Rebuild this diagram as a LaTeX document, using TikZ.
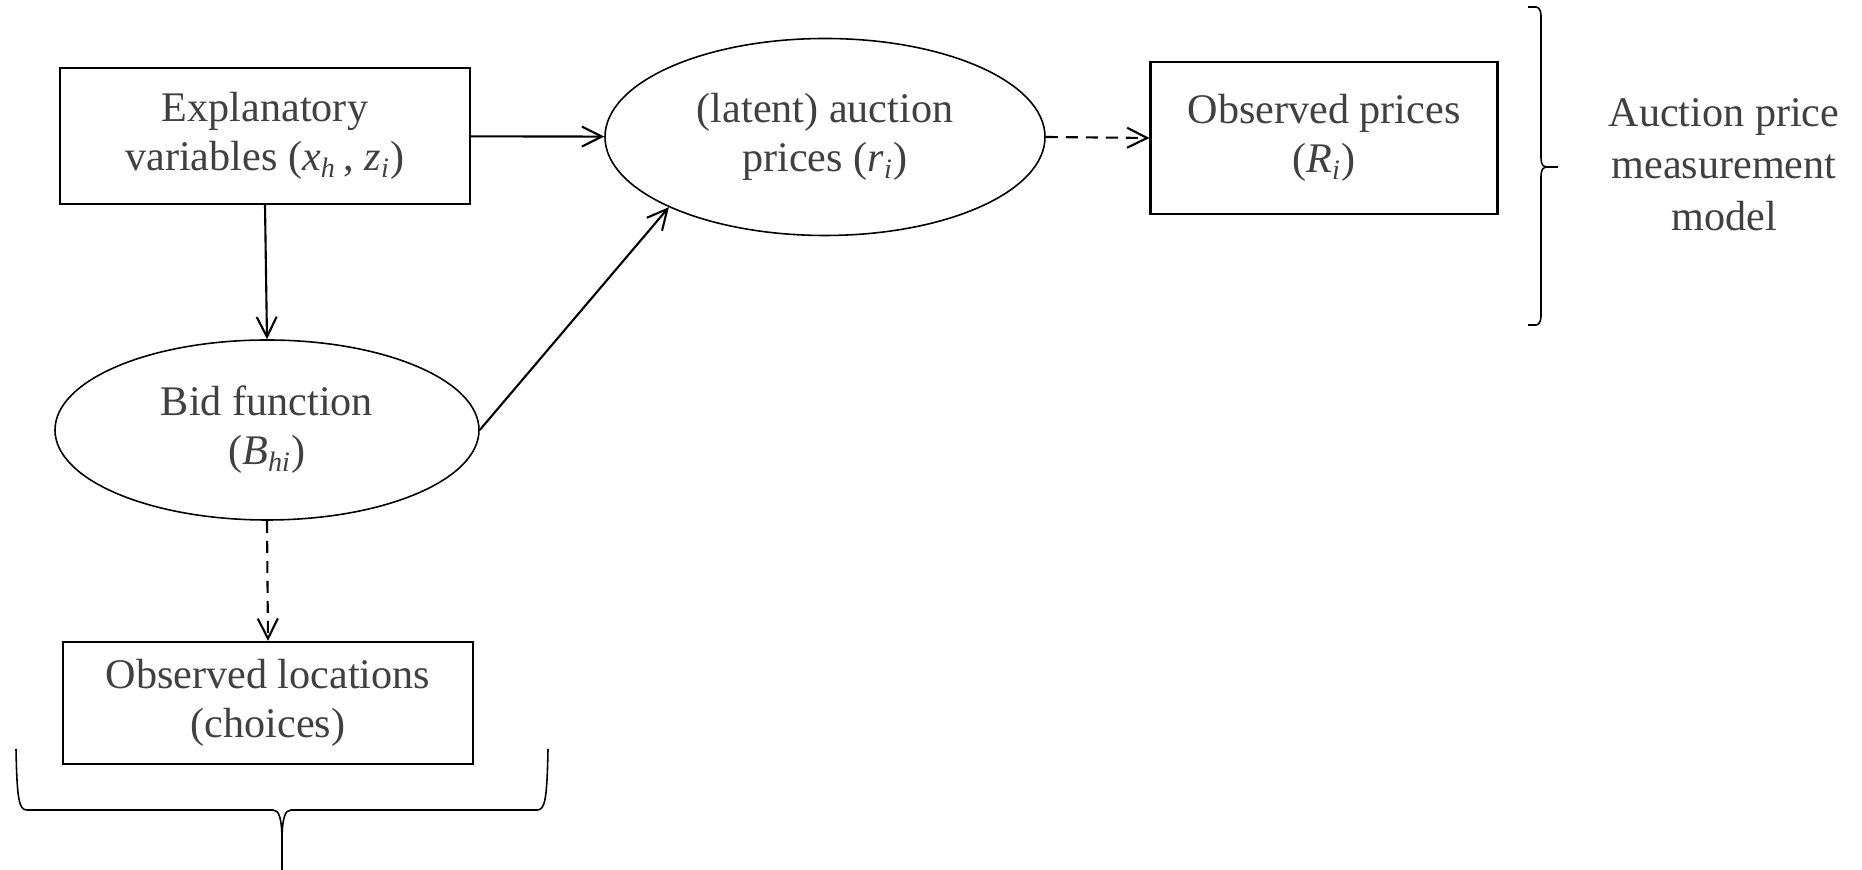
\documentclass[tikz,border=0pt]{standalone}
\usepackage{fontspec}
\setmainfont{Liberation Serif}
\usetikzlibrary{shapes.geometric,arrows.meta}
\definecolor{txtgray}{HTML}{404040}
\tikzset{
	box/.style={draw, rectangle, line width=0.6pt, inner sep=0pt, align=center, text=txtgray},
	oval/.style={draw, ellipse, line width=0.45pt, inner sep=0pt, align=center, text=txtgray},
	link/.style={line width=0.6pt, -{Straight Barb[length=2mm,width=2mm]}},
	obslink/.style={link, dash pattern=on 1.2mm off 0.8mm},
	bracket/.style={line width=0.45pt}
}
\begin{document}
\begin{tikzpicture}[font=\fontsize{12}{14}\selectfont]
		\newcommand{\myvar}[2]{\textit{#1}\textsubscript{\textit{#2}}}
		\useasboundingbox (0,0) rectangle (18.62,-8.70);
		%Centres of the boxes and ovals
		\coordinate (cexpl) at (2.65,-1.36);
		\coordinate (clatent) at (8.25,-1.37);
		\coordinate (cobsp) at (13.24,-1.38);
		\coordinate (cbid) at (2.67,-4.30);
		\coordinate (cobsl) at (2.68,-7.03);
		\coordinate (cmodel) at (17.24,-1.65);
		%The boxes
		\node [box, minimum width=4.10cm, minimum height=1.36cm] (expl) at (cexpl) {Explanatory\\variables (\myvar{x}{h}\,, \myvar{z}{i})};
		\node [box, minimum width=3.47cm, minimum height=1.52cm] (obsp) at (cobsp) {Observed prices\\(\myvar{R}{i})};
		\node [box, minimum width=4.10cm, minimum height=1.22cm] (obsl) at (cobsl) {Observed locations\\(choices)};
		%The ovals
		\node [oval, minimum width=4.40cm, minimum height=1.97cm] (latent) at (clatent) {(latent) auction\\prices (\myvar{r}{i})};
		\node [oval, minimum width=4.24cm, minimum height=1.80cm] (bid) at (cbid) {Bid function\\(\myvar{B}{hi})};
		%Label of the right bracket
		\node [align=center, text=txtgray, font=\fontsize{12}{14.8}\selectfont] (model) at (cmodel) {Auction price\\measurement\\model};
		%Arrows
		\draw [link] (expl) -- (latent);
		\draw [link] (expl.south) -- (bid.north);
		\draw [link] (bid.east) -- (latent.south west);
		\draw [obslink] (latent.east) -- (obsp.west);
		\draw [obslink] (bid.south) -- (obsl.north);
		%Right bracket
		\coordinate (rtop) at (15.28,-0.07);
		\coordinate (rbot) at (15.28,-3.25);
		\coordinate (rtip) at (15.58,-1.67);
		\draw [bracket] (rtop) -- ++(0.08,0) .. controls +(0.04,0) and +(0,0.03) .. ++(0.05,-0.09) -- (15.41,-1.58) .. controls +(0,-0.06) and +(-0.04,0) .. (15.47,-1.67) -- (rtip);
		\draw [bracket] (rbot) -- ++(0.08,0) .. controls +(0.04,0) and +(0,-0.03) .. ++(0.05,0.09) -- (15.41,-1.76) .. controls +(0,0.06) and +(-0.04,0) .. (15.47,-1.67);
		%Bottom bracket
		\coordinate (bleft) at (0.16,-7.49);
		\coordinate (bright) at (5.48,-7.49);
		\coordinate (btip) at (2.82,-8.70);
		\draw [bracket] (bleft) .. controls (0.17,-8.00) and (0.19,-8.10) .. (0.27,-8.10) -- (2.73,-8.10) .. controls (2.79,-8.10) and (2.82,-8.18) .. (2.82,-8.42) -- (btip);
		\draw [bracket] (bright) .. controls (5.47,-8.00) and (5.45,-8.10) .. (5.37,-8.10) -- (2.91,-8.10) .. controls (2.85,-8.10) and (2.82,-8.18) .. (2.82,-8.42);
\end{tikzpicture}
\end{document}
